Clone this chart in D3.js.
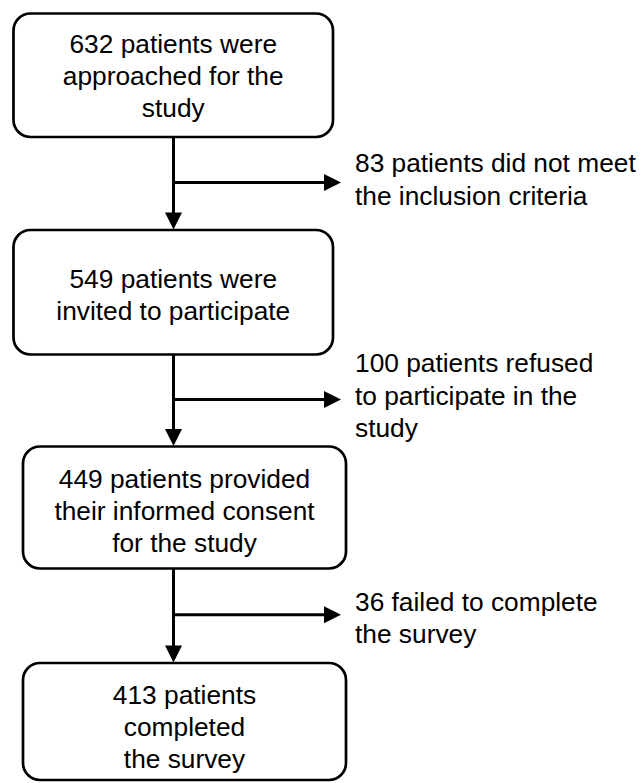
<!DOCTYPE html>
<html><head><meta charset="utf-8">
<script src="https://cdn.jsdelivr.net/npm/d3@7"></script>
<style>body{margin:0;background:#fff}</style>
</head><body>
<svg id="c" width="643" height="783"></svg>
<script>
// ---- data ----
const stepCounts = [632, 549, 449, 413];
const stepLines = [
  ["632 patients were", "approached for the", "study"],
  ["549 patients were", "invited to participate"],
  ["449 patients provided", "their informed consent", "for the study"],
  ["413 patients", "completed", "the survey"]
];
const exclusionCounts = [83, 100, 36];
const exclusionLines = [
  ["83 patients did not meet", "the inclusion criteria"],
  ["100 patients refused", "to participate in the", "study"],
  ["36 failed to complete", "the survey"]
];

// ---- layout ----
const svg = d3.select("#c");
const yTop = d3.scaleLinear().domain([0, 3]).range([13.5, 663]);
const boxH = [123.5, 124.5, 122, 117];
const boxX = [[13.5, 333], [13.5, 333], [23, 346], [23, 346]];
const sideTextShift = [-3, -4, 3];
const boxTextShift = [10, 12, 12, 14];
const spineX = 173.5, arrowEnd = 341, sideTextX = 355;
const lhBox = 32, lhSide = 32.5, fontSize = 26.3, radius = 17;
const head = 17, halfW = 8.5;

const boxes = stepLines.map((lines, i) => ({
  lines, x0: boxX[i][0], x1: boxX[i][1], y0: yTop(i), y1: yTop(i) + boxH[i]
}));

const g = svg.append("g");

// connectors
exclusionLines.forEach((lines, i) => {
  const b = boxes[i], nb = boxes[i + 1];
  const ay = (b.y1 + nb.y0) / 2 - 1;
  const tipY = nb.y0 - 0.5;
  g.append("line").attr("x1", spineX).attr("x2", spineX)
    .attr("y1", b.y1).attr("y2", tipY - head + 1)
    .attr("stroke", "#000").attr("stroke-width", 3);
  g.append("path")
    .attr("d", `M${spineX - halfW},${tipY - head}L${spineX + halfW},${tipY - head}L${spineX},${tipY}Z`)
    .attr("fill", "#000");
  g.append("line").attr("x1", spineX).attr("x2", arrowEnd - head + 1)
    .attr("y1", ay).attr("y2", ay)
    .attr("stroke", "#000").attr("stroke-width", 3);
  g.append("path")
    .attr("d", `M${arrowEnd - head},${ay - halfW}L${arrowEnd - head},${ay + halfW}L${arrowEnd},${ay}Z`)
    .attr("fill", "#000");
  const n = lines.length;
  g.append("text")
    .attr("font-family", "Liberation Sans, Arial, sans-serif")
    .attr("font-size", fontSize).attr("fill", "#000")
    .selectAll("tspan").data(lines).join("tspan")
    .attr("x", sideTextX)
    .attr("y", (d, k) => ay + (k - (n - 1) / 2) * lhSide + 9 + sideTextShift[i])
    .text(d => d);
});

// boxes
boxes.forEach((b, i) => {
  g.append("rect")
    .attr("x", b.x0).attr("y", b.y0)
    .attr("width", b.x1 - b.x0).attr("height", b.y1 - b.y0)
    .attr("rx", radius).attr("ry", radius)
    .attr("fill", "#fff").attr("stroke", "#000").attr("stroke-width", 2.7);
  const cx = (b.x0 + b.x1) / 2, cy = (b.y0 + b.y1) / 2;
  const n = b.lines.length;
  g.append("text")
    .attr("font-family", "Liberation Sans, Arial, sans-serif")
    .attr("font-size", fontSize).attr("fill", "#000")
    .attr("text-anchor", "middle")
    .selectAll("tspan").data(b.lines).join("tspan")
    .attr("x", cx)
    .attr("y", (d, k) => cy + (k - (n - 1) / 2) * lhBox + boxTextShift[i])
    .text(d => d);
});
</script>
</body></html>
